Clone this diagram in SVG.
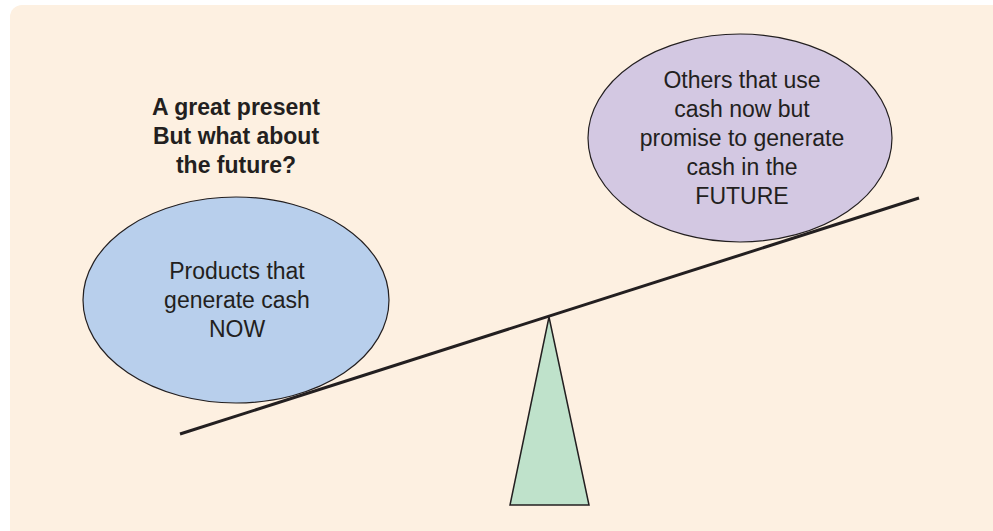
<svg xmlns="http://www.w3.org/2000/svg" width="993" height="531" viewBox="0 0 993 531">
<style>
  .t { font-family: "Liberation Sans", Arial, Helvetica, sans-serif; font-size: 23px; fill: #231f20; text-anchor: middle; }
  .b { font-weight: bold; }
  .node { stroke: #231f20; stroke-width: 1.2; }
</style>
<rect width="993" height="531" fill="#ffffff"/>
<rect x="10" y="5" width="1000" height="545" rx="12" fill="#fdf0e1"/>
<g id="fulcrum">
  <polygon points="549,317 510,505 589,505" fill="#bfe2cb" stroke="#231f20" stroke-width="1.5"/>
</g>
<g id="present-ellipse">
  <ellipse cx="236" cy="300" rx="153" ry="103" fill="#b8cfec" class="node"/>
  <text class="t" x="237" y="279">Products that</text>
  <text class="t" x="237" y="308">generate cash</text>
  <text class="t" x="237" y="337">NOW</text>
</g>
<g id="future-ellipse">
  <ellipse cx="740" cy="138" rx="152" ry="104" fill="#d3c8e2" class="node"/>
  <text class="t" x="742" y="88">Others that use</text>
  <text class="t" x="742" y="117">cash now but</text>
  <text class="t" x="742" y="146">promise to generate</text>
  <text class="t" x="742" y="175">cash in the</text>
  <text class="t" x="742" y="204">FUTURE</text>
</g>
<g id="caption">
  <text class="t b" x="236" y="115">A great present</text>
  <text class="t b" x="236" y="144">But what about</text>
  <text class="t b" x="236" y="173">the future?</text>
</g>
<g id="connectors">
  <line x1="180" y1="434" x2="919" y2="198" stroke="#231f20" stroke-width="3"/>
</g>
</svg>
